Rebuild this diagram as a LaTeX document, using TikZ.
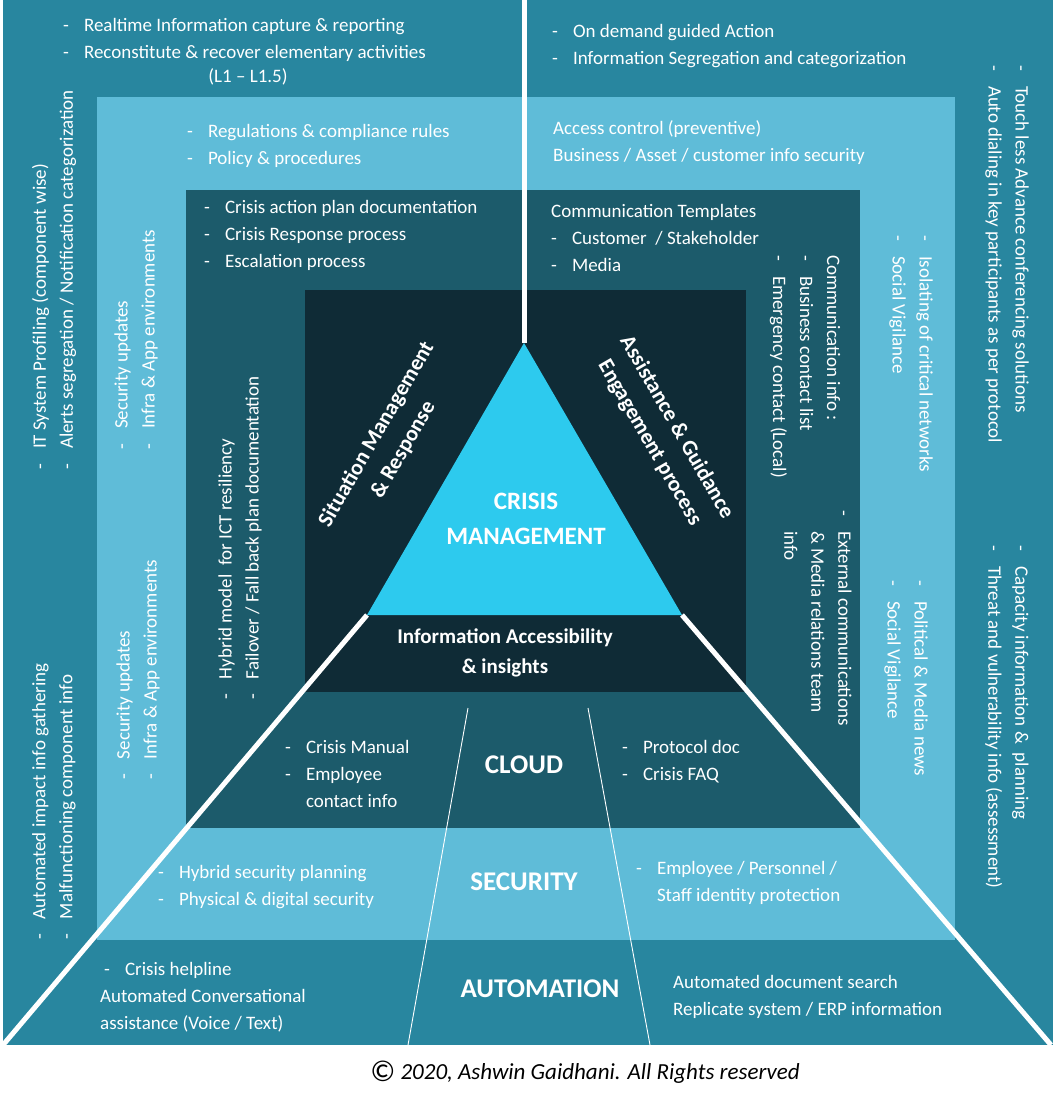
\documentclass[tikz,border=0pt]{standalone}
\usepackage{fontspec}
\setmainfont{Carlito}
\begin{document}
\definecolor{cOut}{HTML}{28869F}
\definecolor{cL2}{HTML}{5FBCD8}
\definecolor{cL3}{HTML}{1C5B6B}
\definecolor{cIn}{HTML}{0F2B36}
\definecolor{cTri}{HTML}{2DCAEE}
\newcommand{\dsh}{-\hspace{15pt}}
\newcommand{\nodsh}{\phantom{-}\hspace{15pt}}
\begin{tikzpicture}[x=1pt,y=-1pt,
  t/.style={text=white,inner sep=0pt,font=\fontsize{19}{27}\selectfont,align=left},
  tl/.style={t,anchor=west},
  lv/.style={t,rotate=90,anchor=west},
  rv/.style={t,rotate=-90,anchor=west},
  hb/.style={text=white,inner sep=0pt,font=\bfseries\fontsize{22}{31}\selectfont,align=center},
  big/.style={text=white,inner sep=0pt,font=\bfseries\fontsize{27}{33}\selectfont}]
\useasboundingbox (0,0) rectangle (1056,1107);
\fill[white] (0,0) rectangle (1056,1107);
\fill[cOut] (3,0) rectangle (1053,1045);
\fill[cL2] (97,97) rectangle (955,940);
\fill[cL3] (186,190) rectangle (860,828);
\fill[cIn] (305,290) rectangle (746,692);
\coordinate (apex) at (524,343);
\coordinate (bl) at (367,615);
\coordinate (br) at (682,615);
\coordinate (top) at (524,0);
\coordinate (cbl) at (3,1045);
\coordinate (cbr) at (1051,1045);
\fill[cTri] (apex) -- (bl) -- (br) -- cycle;
\draw[white,line width=5pt] (top) -- (apex);
\draw[white,line width=5pt] (bl) -- (cbl);
\draw[white,line width=5pt] (br) -- (cbr);
\coordinate (t1a) at (468,708); \coordinate (t1b) at (408,1045);
\coordinate (t2a) at (588,708); \coordinate (t2b) at (650,1045);
\draw[white,line width=0.9pt] (t1a) -- (t1b);
\draw[white,line width=0.9pt] (t2a) -- (t2b);

% top
\node[tl] (a1) at (63,40) {\dsh Realtime Information capture \& reporting\\ \dsh Reconstitute \& recover elementary activities};
\node[t,anchor=center] (a2) at (248,77) {(L1 -- L1.5)};
\node[tl] (a3) at (552,46) {\dsh On demand guided Action\\ \dsh Information Segregation and categorization};
\node[tl] (b1) at (187,146) {\dsh Regulations \& compliance rules\\ \dsh Policy \& procedures};
\node[tl] (b2) at (553,143) {Access control (preventive)\\ Business / Asset / customer info security};
\node[tl] (c1) at (204,235) {\dsh Crisis action plan documentation\\ \dsh Crisis Response process\\ \dsh Escalation process};
\node[tl] (c2) at (551,238) {Communication Templates\\ \dsh Customer~ / Stakeholder\\ \dsh Media};

% left verticals
\node[lv] (l1) at (54,470) {\dsh IT System Profiling (component wise)\\ \dsh Alerts segregation / Notification categorization};
\node[lv] (l2) at (54,940) {\dsh Automated impact info gathering\\ \dsh Malfunctioning component info};
\node[lv] (l3) at (136,450) {\dsh Security updates\\ \dsh Infra \& App environments};
\node[lv] (l4) at (138,780) {\dsh Security updates\\ \dsh Infra \& App environments};
\node[lv] (l5) at (240,700) {\dsh Hybrid model~ for ICT resiliency\\ \dsh Failover / Fall back plan documentation};

% right verticals
\node[rv] (r1) at (805,255) {Communication info :\\ \dsh Business contact list\\ \dsh Emergency contact (Local)};
\node[rv] (r2) at (818,510) {\dsh External communications\\ \nodsh \& Media relations team\\ \nodsh info};
\node[rv] (r3) at (911,235) {\dsh Isolating of critical networks\\ \dsh Social Vigilance};
\node[rv] (r4) at (906,580) {\dsh Political \& Media news\\ \dsh Social Vigilance};
\node[rv] (r5) at (1007,65) {\dsh Touch less Advance conferencing solutions\\ \dsh Auto dialing in key participants as per protocol};
\node[rv] (r6) at (1007,545) {\dsh Capacity information \&~ planning\\ \dsh Threat and vulnerability info (assessment)};

% inner
\node[hb,rotate=60] (s1) at (390,442) {Situation Management\\ \& Response};
\node[hb,rotate=-60] (s2) at (663,435) {Assistance \& Guidance\\ Engagement process};
\node[hb,font=\bfseries\fontsize{25}{35}\selectfont] (cm) at (526,519) {CRISIS\\ MANAGEMENT};
\node[hb,font=\bfseries\fontsize{21}{30}\selectfont] (ia) at (505,653) {Information Accessibility\\ \& insights};

% cloud
\node[big] (cl) at (524,765) {CLOUD};
\node[tl] (cl1) at (285,774) {\dsh Crisis Manual\\ \dsh Employee\\ \nodsh contact info};
\node[tl] (cl2) at (622,762) {\dsh Protocol doc\\ \dsh Crisis FAQ};
% security
\node[big] (se) at (524,882) {SECURITY};
\node[tl] (se1) at (158,887) {\dsh Hybrid security planning\\ \dsh Physical \& digital security};
\node[tl] (se2) at (636,883) {\dsh Employee / Personnel /\\ \nodsh Staff identity protection};
% automation
\node[big] (au) at (540,989) {AUTOMATION};
\node[tl] (au1) at (100,997) {\hspace{4pt}\dsh Crisis helpline\\ Automated Conversational\\ assistance (Voice / Text)};
\node[tl] (au2) at (673,997) {Automated document search\\ Replicate system / ERP information};

\node[inner sep=0pt,font=\itshape\fontsize{23}{28}\selectfont] (cp) at (585,1072) {{\upshape\fontsize{30}{30}\selectfont\raisebox{-2pt}{©}} 2020, Ashwin Gaidhani. All Rights reserved};
\end{tikzpicture}
\end{document}
